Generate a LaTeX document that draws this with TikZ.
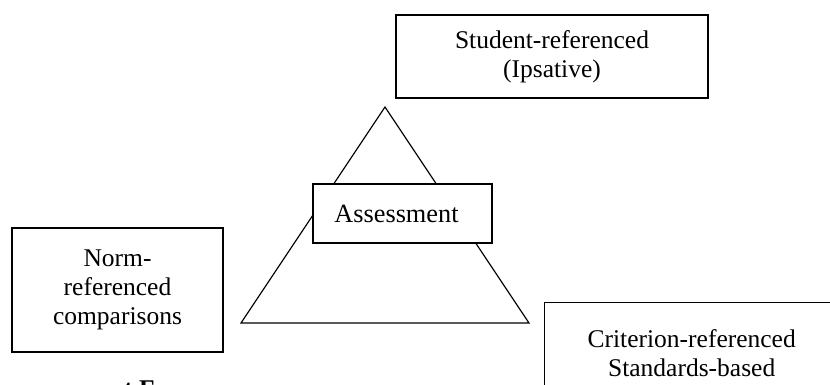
\documentclass[tikz,border=0pt]{standalone}
\usepackage{fontspec}
\setmainfont{Liberation Serif}
\usepackage{tikz}

\begin{document}
\begin{tikzpicture}[x=1pt,y=-1pt,
	kuang/.style={draw,line width=1.4pt,fill=white,align=center,inner sep=0pt,
		font=\fontsize{25.5}{29}\selectfont}]
	% 固定画面大小 830 x 385
	\path[use as bounding box] (0,0) rectangle (830,385);
	
	% 三角形的三个顶点
	\coordinate (ding) at (385,107);
	\coordinate (zuoxia) at (241,323);
	\coordinate (youxia) at (529,323);
	% 绘制三角形
	\draw[line width=1.2pt,line join=miter] (ding) -- (zuoxia) -- (youxia) -- cycle;
	
	% 上方的框:Student-referenced
	\node[kuang,minimum width=312,minimum height=83] (xuesheng) at (552,56.5)
		{Student-referenced\hspace{8pt}\\(Ipsative)\hspace{8pt}};
	% 中间的框:Assessment
	\node[kuang,minimum width=179,minimum height=59,font=\fontsize{26.3}{29}\selectfont] (pinggu) at (402.5,213.5)
		{Assessment\hspace{12pt}};
	% 左边的框:Norm-referenced
	\node[kuang,minimum width=211,minimum height=124] (changmo) at (117.5,290)
		{Norm-\\referenced\\comparisons};
	% 右下的框:Criterion-referenced,超出画面
	\node[kuang,anchor=north west,minimum width=294,minimum height=100] (biaozhun) at (544,302)
		{Criterion-referenced\\Standards-based};
	
	% 底部被截掉的标题
	\node[anchor=base west,inner sep=0pt,font=\fontsize{25.5}{29}\selectfont\bfseries] (biaoti) at (124,397) {t F};
	
\end{tikzpicture}
\end{document}
